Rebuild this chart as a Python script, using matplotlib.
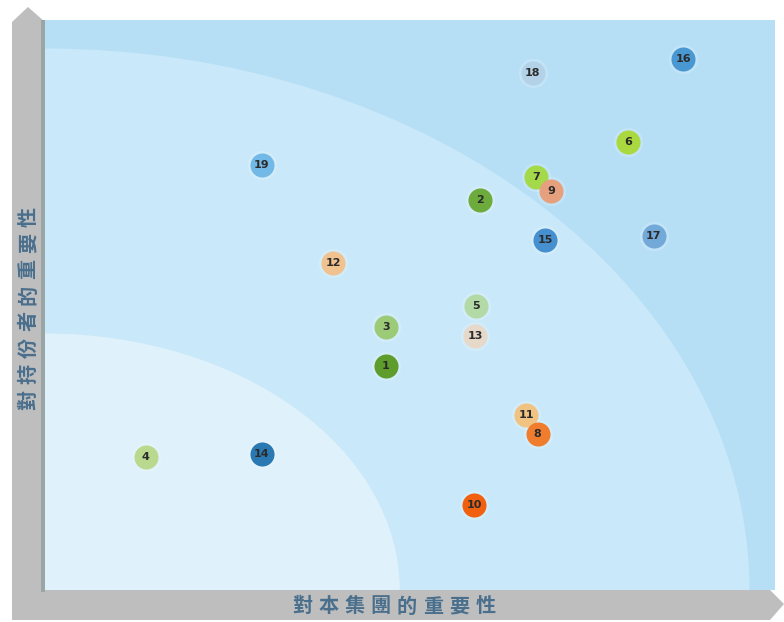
import matplotlib
matplotlib.use('Agg')
import matplotlib.pyplot as plt
from matplotlib.patches import Polygon, Ellipse, Rectangle

plt.rcParams['font.family'] = ['Noto Sans CJK TC', 'DejaVu Sans']

# materiality points: id, importance to group (x), importance to stakeholders (y)
labels = ["1", "2", "3", "4", "5", "6", "7", "8", "9", "10",
          "11", "12", "13", "14", "15", "16", "17", "18", "19"]
x_vals = [46.7, 59.6, 46.7, 13.8, 59.0, 79.9, 67.3, 67.5, 69.3, 58.8,
          65.9, 39.5, 58.9, 29.7, 68.5, 87.4, 83.4, 66.8, 29.7]
y_vals = [39.3, 68.4, 46.1, 23.3, 49.8, 78.6, 72.5, 27.4, 70.0, 14.9,
          30.7, 57.4, 44.6, 23.9, 61.4, 93.2, 62.1, 90.7, 74.6]
colors = ["#5e9c2c", "#6cab3c", "#9ccb78", "#b8d98e", "#b2d9a6", "#a9d83f",
          "#a4d94a", "#f07d2e", "#e6a07e", "#f0600e", "#f0c383", "#efc28f",
          "#e6d9c9", "#2a79b2", "#4690d0", "#4a98d2", "#72a9d8", "#b3d2e8",
          "#72b9e8"]
# draw order so overlapping markers stack like the original
order = [0, 1, 2, 3, 4, 5, 6, 8, 10, 7, 9, 11, 12, 13, 14, 15, 16, 17, 18]

x_label = "對本集團的重要性"
y_label = "對持份者的重要性"

fig = plt.figure(figsize=(7.84, 6.22), dpi=100)

# background layer in pixel coordinates for the grey axis arrows
bg = fig.add_axes([0, 0, 1, 1])
bg.set_xlim(0, 784)
bg.set_ylim(622, 0)
bg.axis('off')
grey = "#bebebe"
bg.add_patch(Polygon([[12, 620], [12, 22], [28, 7], [45, 22], [45, 620]],
                     closed=True, fc=grey, ec="none"))
bg.add_patch(Polygon([[12, 590], [770, 590], [784, 604], [770, 620], [12, 620]],
                     closed=True, fc=grey, ec="none"))
bg.add_patch(Rectangle((41, 20), 4, 572, fc="#9aa5a5", ec="none"))

# spaced-out axis titles, one character at a time
txt_color = "#4a6f8c"
step = 26.2
for k, ch in enumerate(x_label):
    bg.text(302 + k * step, 606, ch, color=txt_color, fontsize=14.5,
            fontweight='bold', ha='center', va='center')
for k, ch in enumerate(y_label):
    bg.text(28, 400 - k * step, ch, color=txt_color, fontsize=14.5,
            fontweight='bold', ha='center', va='center', rotation=90)

# main chart area
ax = fig.add_axes([45 / 784, 32 / 622, 730 / 784, 570 / 622])
ax.set_xlim(0, 100)
ax.set_ylim(0, 100)
ax.set_facecolor("#b6dff6")
ax.add_patch(Ellipse((0, 0), 2 * 96.5, 2 * 95.0, fc="#c9e8f9", ec="none"))
ax.add_patch(Ellipse((0, 0), 2 * 48.6, 2 * 45.0, fc="#dff1fb", ec="none"))
for s in ax.spines.values():
    s.set_visible(False)
ax.set_xticks([])
ax.set_yticks([])

for i in order:
    ax.scatter(x_vals[i], y_vals[i], s=440, color="white", alpha=0.18,
               linewidths=0, zorder=3)
    ax.scatter(x_vals[i], y_vals[i], s=300, color=colors[i], linewidths=0,
               zorder=4)
    ax.text(x_vals[i], y_vals[i], labels[i], fontsize=8, fontweight='bold',
            color="#2b2b2b", ha='center', va='center', zorder=5,
            family='DejaVu Sans')

fig.savefig("out.png", dpi=100)
